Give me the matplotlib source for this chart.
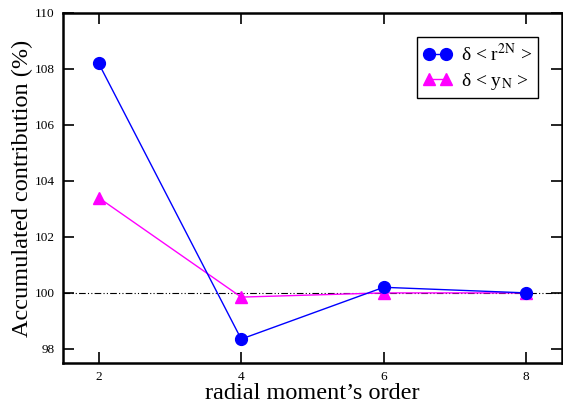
import numpy as np
import matplotlib
matplotlib.use("Agg")
import matplotlib.pyplot as plt

plt.rcParams['font.family'] = ['Liberation Serif', 'DejaVu Serif']
plt.rcParams['mathtext.fontset'] = 'stix'

# data
order = [2, 4, 6, 8]
r2n = [108.2, 98.35, 100.2, 100.0]
yn = [103.4, 99.85, 100.0, 100.0]
xticks = [2, 4, 6, 8]
yticks = [98, 100, 102, 104, 106, 108, 110]

fig = plt.figure(figsize=(5.63, 4.05), dpi=100)
ax = fig.add_axes([0.112, 0.104, 0.886, 0.864])

# reference line at 100 %
ax.axhline(100, color='black', lw=0.8, ls=(0, (6, 2, 1, 2, 1, 2)), zorder=1)

ax.plot(order, r2n, color='blue', lw=1, marker='o', ms=8.5,
        label=r'δ < r$^{\mathrm{2N}}$ >', zorder=3)
ax.plot(order, yn, color='magenta', lw=1, marker='^', ms=9,
        label=r'δ < y$_{\mathrm{N}}$ >', zorder=2)

ax.set_xlim(1.5, 8.5)
ax.set_ylim(97.5, 110)
ax.set_xticks(xticks)
ax.set_yticks(yticks)
ax.tick_params(direction='in', length=8, width=1.2, top=True, right=True,
               labelsize=9.5, pad=6)
for s in ax.spines.values():
    s.set_linewidth(1.8)

ax.set_xlabel("radial moment’s order", fontsize=17.5, labelpad=0)
ax.set_ylabel("Accumulated contribution (%)", fontsize=17.5, labelpad=1)

leg = ax.legend(loc='upper right', bbox_to_anchor=(0.952, 0.931), fontsize=14,
                fancybox=False, edgecolor='black', framealpha=1, numpoints=2,
                handlelength=1.5, handletextpad=0.45, borderpad=0.3,
                labelspacing=0.3, borderaxespad=0)
leg.get_frame().set_linewidth(1.0)

fig.savefig("out.png", dpi=100)
